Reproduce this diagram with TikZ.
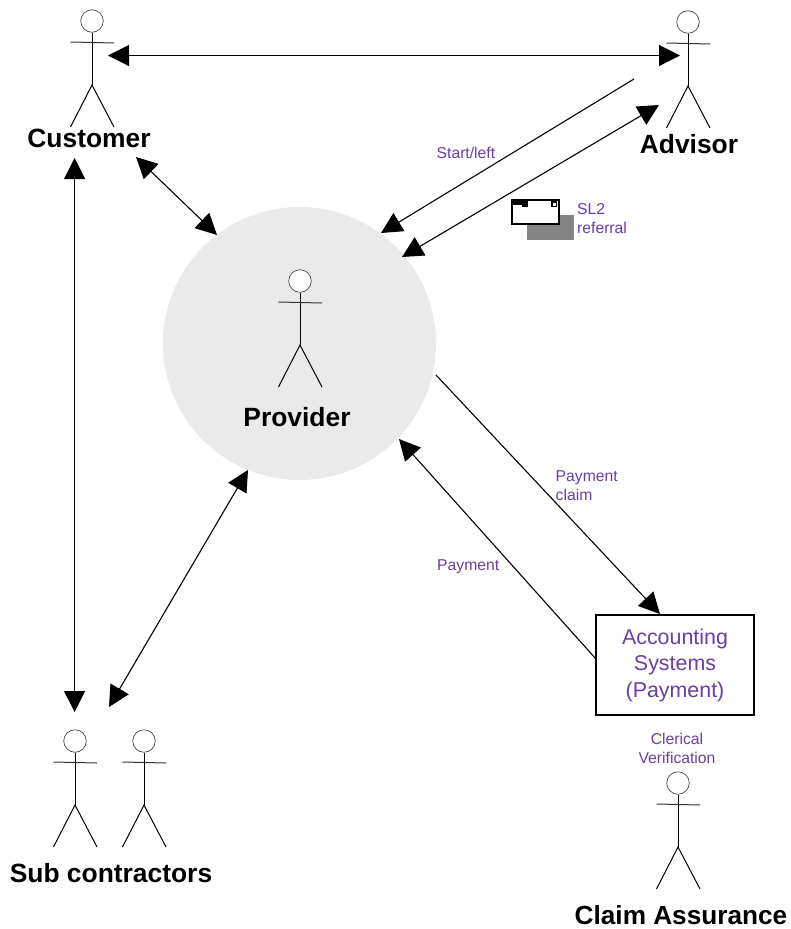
\documentclass[tikz,border=0pt]{standalone}
\usepackage{fontspec}
\setmainfont{Liberation Sans}
\usetikzlibrary{arrows.meta}
\definecolor{labelpurple}{HTML}{6A3FA5}
\definecolor{discgrey}{HTML}{EAEAEA}
\definecolor{shadowgrey}{HTML}{848484}
\tikzset{
  actorline/.style={draw=black,line width=1pt},
  headline/.style={draw=black!70,line width=0.7pt},
  link/.style={draw=black,line width=1.1pt},
  bigtip/.style={arrows={-{Triangle[length=21pt,width=21pt]}}},
  bothtip/.style={arrows={{Triangle[length=21pt,width=21pt]}-{Triangle[length=21pt,width=21pt]}}},
  rolelabel/.style={font=\fontsize{26.4}{30}\selectfont\bfseries,inner sep=0pt,text=black},
  smalllabel/.style={font=\fontsize{15.7}{19}\selectfont,inner sep=0pt,text=labelpurple,align=left},
  boxlabel/.style={font=\fontsize{21.4}{26.5}\selectfont,text=labelpurple,align=center,inner sep=0pt},
}
\newcommand{\stickfigure}[3]{% name, x, y of head centre
  \begin{scope}[shift={(#2,#3)}]
    \node[circle,headline,minimum size=22.5pt,inner sep=0pt,fill=white] (#1) at (0,0) {};
    \coordinate (#1-hip) at (0,64);
    \draw[actorline] (#1.south) -- (#1-hip);
    \draw[actorline,draw=black!80] (-21.5,21) -- (22,22);
    \draw[actorline] (-21.5,106) -- (#1-hip) -- (22,106);
  \end{scope}
}
\begin{document}
\begin{tikzpicture}[x=1pt,y=-1pt]
\useasboundingbox (0,0) rectangle (790,929);
\fill[white] (0,0) rectangle (790,929);
\fill[discgrey] (299.5,343.5) circle[radius=136.5];
\stickfigure{cust}{92}{21}
\stickfigure{adv}{688}{22}
\stickfigure{prov}{300}{281}
\stickfigure{subA}{75}{741}
\stickfigure{subB}{144}{741}
\stickfigure{claim}{678}{783}
\node[rolelabel] (custlabel) at (89,138) {Customer};
\node[rolelabel] (advlabel) at (689,144) {Advisor};
\node[rolelabel] (provlabel) at (297,417) {Provider};
\node[rolelabel] (sublabel) at (111,873) {Sub contractors};
\node[rolelabel,font=\fontsize{26.2}{30}\selectfont\bfseries] (claimlabel) at (681,915.5) {Claim Assurance};
\node[draw=black,line width=2.3pt,minimum width=158.5pt,minimum height=100.5pt,inner sep=0pt,boxlabel] (acct) at (675,665) {Accounting\\Systems\\(Payment)};
\coordinate (ca1) at (108,55.5); \coordinate (ca2) at (680,55.5);
\coordinate (cp1) at (136,157); \coordinate (cp2) at (217,235);
\coordinate (cs1) at (74.6,158); \coordinate (cs2) at (74.6,712);
\coordinate (sp1) at (109,707); \coordinate (sp2) at (248,470);
\coordinate (st1) at (634,79); \coordinate (st2) at (381,233);
\coordinate (ar1) at (659,105); \coordinate (ar2) at (402,257);
\coordinate (pc1) at (436,375); \coordinate (pc2) at (660,614);
\coordinate (pa1) at (596,659); \coordinate (pa2) at (399,439);
\draw[link,bothtip] (ca1) -- (ca2);
\draw[link,bothtip] (cp1) -- (cp2);
\draw[link,bothtip] (cs1) -- (cs2);
\draw[link,bothtip] (sp1) -- (sp2);
\draw[link,bigtip] (st1) -- (st2);
\draw[link,bothtip] (ar1) -- (ar2);
\draw[link,bigtip] (pc1) -- (pc2);
\draw[link,bigtip] (pa1) -- (pa2);
\node[smalllabel,anchor=west] (startlabel) at (436.5,152.5) {Start/left};
\node[smalllabel,anchor=west] (sl2label) at (577,218.5) {SL2\\referral};
\node[smalllabel,anchor=west] (pclabel) at (555.5,485.5) {Payment\\claim};
\node[smalllabel,anchor=west] (palabel) at (437,566.5) {Payment};
\node[smalllabel,align=center] (cvlabel) at (677,748.5) {Clerical\\Verification};
% envelope
\fill[shadowgrey] (527,215) rectangle (574,240);
\draw[fill=white,draw=black,line width=2pt] (511.5,199.5) rectangle (558.5,223.5);
\fill[black] (512,200) rectangle (528,204.5);
\fill[black] (522,204) rectangle (528,206.8);
\fill[black] (551,201) rectangle (557,207);
\fill[white] (552.5,202.5) rectangle (555.5,205.5);
\end{tikzpicture}
\end{document}
